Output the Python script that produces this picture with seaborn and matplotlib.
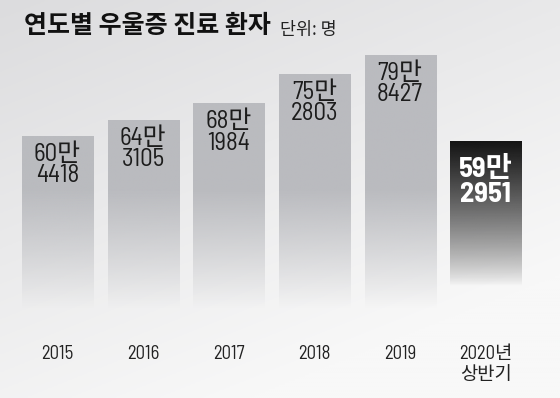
import numpy as np
import pandas as pd
import matplotlib
matplotlib.use("Agg")
import matplotlib.pyplot as plt
import seaborn as sns

# chart data
years = ["2015", "2016", "2017", "2018", "2019", "2020년\n상반기"]
patients = [604418, 643105, 681984, 752803, 798427, 592951]
value_labels = ["60만\n4418", "64만\n3105", "68만\n1984", "75만\n2803", "79만\n8427", "59만\n2951"]
title = "연도별 우울증 진료 환자"
unit_text = "단위: 명"


def gradient_bar(ax, patch, rgb, fade_lo, fade_hi, power, zorder=2):
    # vertical fade: solid above fade_hi, transparent below fade_lo
    x0, w, h = patch.get_x(), patch.get_width(), patch.get_height()
    yv = np.linspace(h, 0, 300)
    t = np.clip((yv - fade_lo) / (fade_hi - fade_lo), 0, 1) ** power
    img = np.zeros((300, 2, 4))
    img[:, :, :3] = np.array(rgb) / 255.0
    img[:, :, 3] = t[:, None]
    im = ax.imshow(img, extent=[x0, x0 + w, 0, h], aspect="auto",
                   origin="upper", zorder=zorder, interpolation="bilinear")
    im.set_clip_path(patch)
    patch.set_facecolor("none")
    patch.set_edgecolor("none")


def main():
    sns.set_theme(style="white")
    plt.rcParams["font.family"] = ["Barlow Semi Condensed", "Noto Sans CJK KR", "DejaVu Sans"]

    fig = plt.figure(figsize=(5.6, 3.98), dpi=100)

    # diagonal light-gray background
    bg = fig.add_axes([0, 0, 1, 1], zorder=0)
    yy, xx = np.mgrid[0:1:200j, 0:1:280j]
    t = np.clip(0.45 * xx + 0.8 * yy, 0, 1)
    c0, c1 = np.array([220, 220, 222]), np.array([248, 248, 248])
    bg.imshow((c0 + (c1 - c0) * t[..., None]) / 255.0, aspect="auto", extent=[0, 1, 0, 1])
    bg.axis("off")

    ax = fig.add_axes([0.026, 0.025, 0.918, 0.8745], zorder=1)
    ax.set_facecolor("none")

    df = pd.DataFrame({"year": years, "patients": patients})
    sns.barplot(data=df, x="year", y="patients", ax=ax, width=0.83, color="#bbbcc0")

    n = len(patients)
    for i, p in enumerate(ax.patches[:n]):
        last = i == n - 1
        h = p.get_height()
        if last:
            gradient_bar(ax, p, (18, 18, 18), 245000, h, 0.8)
        else:
            gradient_bar(ax, p, (186, 187, 191), 190000, 475000, 1.0)
        cx = p.get_x() + p.get_width() / 2
        ax.annotate(value_labels[i], xy=(cx, h),
                    xytext=(0, -11 if last else -5), textcoords="offset points",
                    ha="center", va="top", zorder=5,
                    fontsize=20.5 if last else 18,
                    fontweight="bold" if last else "normal",
                    color="white" if last else "#1c1c1c",
                    linespacing=1.0 if last else 0.9)

    ax.set_xlim(-0.5, n - 0.5)
    ax.set_ylim(0, 834000)
    ax.set_xlabel("")
    ax.set_ylabel("")
    ax.set_yticks([])
    ax.tick_params(axis="x", length=0, pad=-31, labelsize=13.5, labelcolor="#222222")
    sns.despine(ax=ax, left=True, bottom=True)

    fig.text(0.042, 0.917, title, fontsize=18, fontweight="bold",
             family=["Noto Sans CJK KR"], color="#111111", va="baseline")
    fig.text(0.5, 0.912, unit_text, fontsize=12.5,
             family=["Noto Sans CJK KR"], color="#222222", va="baseline")

    fig.savefig("out.png", dpi=100)


if __name__ == "__main__":
    main()
